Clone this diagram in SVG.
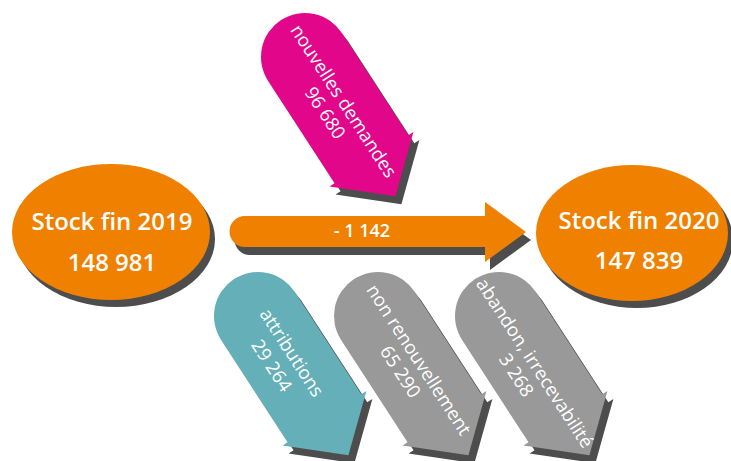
<svg xmlns="http://www.w3.org/2000/svg" xmlns:xlink="http://www.w3.org/1999/xlink" width="731" height="461" viewBox="0 0 731 461">
  <style>
    .sh { fill: #4D4D4D; }
    .org { fill: #F08000; }
    .mag { fill: #E2078A; }
    .teal { fill: #64AFB8; }
    .gray { fill: #999999; }
    .big { font-family: "Open Sans", "Liberation Sans", sans-serif; font-weight: 600; font-size: 24px; fill: #FFFFFF; text-anchor: middle; }
    .lbl { font-family: "Open Sans", "Liberation Sans", sans-serif; font-weight: 600; font-size: 18px; fill: #FFFFFF; text-anchor: middle; }
    .rt { font-family: "Open Sans", "Liberation Sans", sans-serif; font-weight: 400; font-size: 18.5px; fill: #FFFFFF; text-anchor: middle; }
  </style>
  <defs>
    <path id="rarrow" d="M0,-44 L122,-44 L122,-50 L166,0 L122,50 L122,44 L0,44 A44,44 0 0 1 0,-44 Z"/>
    <path id="harrow" d="M245,216 L485,216 L485,202 L526,232 L485,262 L485,247 L245,247 A15.5,15.5 0 0 1 245,216 Z"/>
  </defs>
  <rect width="731" height="461" fill="#FFFFFF"/>

  <g id="connectors">
    <use xlink:href="#harrow" href="#harrow" class="sh" transform="translate(5,8)"/>
    <use xlink:href="#harrow" href="#harrow" class="org"/>
    <text class="lbl" x="362" y="237">- 1 142</text>
  </g>

  <g id="stock2019">
    <ellipse class="sh" cx="116" cy="239" rx="99" ry="68"/>
    <ellipse class="org" cx="111" cy="232" rx="99" ry="68"/>
    <text class="big" x="112" y="230">Stock fin 2019</text>
    <text class="big" x="112" y="271">148 981</text>
  </g>

  <g id="stock2020">
    <ellipse class="sh" cx="637" cy="240" rx="96" ry="68"/>
    <ellipse class="org" cx="632" cy="233" rx="96" ry="68"/>
    <text class="big" x="639" y="229">Stock fin 2020</text>
    <text class="big" x="639" y="269">147 839</text>
  </g>

  <g id="nouvelles">
    <use xlink:href="#rarrow" href="#rarrow" class="sh" transform="translate(311,65) rotate(57)"/>
    <use xlink:href="#rarrow" href="#rarrow" class="mag" transform="translate(305,57) rotate(57)"/>
    <text class="rt" transform="translate(305,57) rotate(57)"><tspan x="58" y="-2">nouvelles demandes</tspan><tspan x="58" y="20">96 680</tspan></text>
  </g>

  <g id="attributions">
    <use xlink:href="#rarrow" href="#rarrow" class="sh" transform="translate(264,324) rotate(57)"/>
    <use xlink:href="#rarrow" href="#rarrow" class="teal" transform="translate(258,316) rotate(57)"/>
    <text class="rt" transform="translate(258,316) rotate(57)"><tspan x="49" y="-2">attributions</tspan><tspan x="49" y="22">29 264</tspan></text>
  </g>

  <g id="nonrenouvellement">
    <use xlink:href="#rarrow" href="#rarrow" class="sh" transform="translate(384,324) rotate(57)"/>
    <use xlink:href="#rarrow" href="#rarrow" class="gray" transform="translate(378,316) rotate(57)"/>
    <text class="rt" transform="translate(378,316) rotate(57)"><tspan x="59" y="-4">non renouvellement</tspan><tspan x="59" y="18">65 290</tspan></text>
  </g>

  <g id="abandon">
    <use xlink:href="#rarrow" href="#rarrow" class="sh" transform="translate(505,324) rotate(57)"/>
    <use xlink:href="#rarrow" href="#rarrow" class="gray" transform="translate(499,316) rotate(57)"/>
    <text class="rt" transform="translate(499,316) rotate(57)"><tspan x="59" y="2">abandon, irrecevabilité</tspan><tspan x="59" y="24">3 268</tspan></text>
  </g>
</svg>
